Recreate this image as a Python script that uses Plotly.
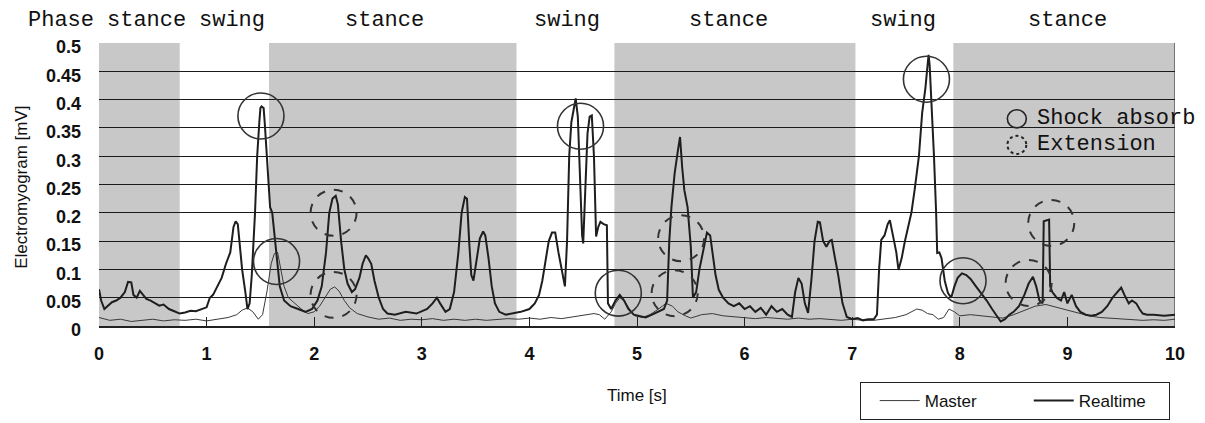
import plotly.graph_objects as go

# --- gait phases (time boundaries in s) ---
phase_bounds = [0, 0.75, 1.58, 3.88, 4.79, 7.03, 7.94, 10]
phase_names = ["stance", "swing", "stance", "swing", "stance", "swing", "stance"]
phase_label_x = [0.44, 1.24, 2.65, 4.35, 5.85, 7.47, 9.0]

# --- Realtime EMG (thick line) ---
rt_t = [0.00, 0.02, 0.05, 0.08, 0.12, 0.16, 0.20, 0.24, 0.27, 0.30, 0.32, 0.35, 0.38, 0.41, 0.44, 0.48,
        0.52, 0.56, 0.60, 0.65, 0.70, 0.75, 0.80, 0.85, 0.90, 0.95, 1.00,
        1.03, 1.06, 1.10, 1.14, 1.18, 1.22, 1.25, 1.27, 1.29, 1.31, 1.33, 1.36, 1.38, 1.40, 1.42, 1.45,
        1.47, 1.49, 1.50, 1.51, 1.53, 1.54, 1.55, 1.57, 1.59, 1.61, 1.64, 1.68, 1.72, 1.78, 1.85, 1.92, 1.98,
        2.03, 2.07, 2.11, 2.14, 2.17, 2.20, 2.22, 2.25, 2.28, 2.31, 2.35, 2.38, 2.42, 2.45, 2.48, 2.50,
        2.53, 2.56, 2.60, 2.64, 2.68, 2.75, 2.85, 2.95, 3.05, 3.10, 3.14, 3.17, 3.22, 3.26,
        3.30, 3.34, 3.37, 3.40, 3.42, 3.44, 3.46, 3.48, 3.51, 3.54, 3.57, 3.59, 3.62, 3.65, 3.68, 3.72,
        3.78, 3.85, 3.92, 4.00, 4.05, 4.09, 4.12, 4.15, 4.18, 4.21, 4.24, 4.27, 4.30, 4.33,
        4.35, 4.37, 4.39, 4.41, 4.43, 4.45, 4.47, 4.49, 4.50, 4.52, 4.54, 4.56, 4.58, 4.60, 4.62, 4.64,
        4.66, 4.69, 4.72, 4.73, 4.76, 4.80, 4.84, 4.88, 4.92, 4.97, 5.02, 5.08, 5.14, 5.20, 5.25,
        5.28, 5.30, 5.32, 5.35, 5.38, 5.40, 5.42, 5.44, 5.47, 5.50, 5.52, 5.55, 5.58, 5.62, 5.65, 5.68,
        5.70, 5.73, 5.76, 5.80, 5.85, 5.90, 5.95, 6.00, 6.05, 6.10, 6.15, 6.20, 6.25, 6.30, 6.35, 6.40,
        6.44, 6.47, 6.50, 6.53, 6.56, 6.59, 6.62, 6.65, 6.68, 6.70, 6.73, 6.76, 6.79, 6.81, 6.84, 6.87,
        6.91, 6.95, 7.00, 7.05, 7.10, 7.15, 7.20, 7.23, 7.25, 7.27, 7.30, 7.33, 7.35, 7.38, 7.41, 7.43,
        7.46, 7.49, 7.52, 7.55, 7.58, 7.62, 7.65, 7.68, 7.70, 7.71, 7.72, 7.74, 7.76, 7.78, 7.79, 7.81,
        7.83, 7.86, 7.89, 7.92, 7.95, 7.98, 8.02, 8.06, 8.10, 8.15, 8.20, 8.25, 8.30, 8.35, 8.38, 8.42,
        8.46, 8.50, 8.55, 8.60, 8.64, 8.68, 8.71, 8.74, 8.77, 8.78, 8.83, 8.84, 8.86, 8.90, 8.94, 8.97,
        9.00, 9.04, 9.08, 9.12, 9.17, 9.22, 9.27, 9.32, 9.37, 9.42, 9.46, 9.50, 9.53, 9.57, 9.60, 9.64,
        9.67, 9.70, 9.74, 9.80, 9.90, 10.00]
rt_v = [0.065, 0.045, 0.030, 0.035, 0.042, 0.045, 0.050, 0.060, 0.078, 0.077, 0.055, 0.050, 0.062, 0.055, 0.048, 0.045,
        0.040, 0.036, 0.038, 0.030, 0.026, 0.022, 0.024, 0.027, 0.026, 0.030, 0.033,
        0.050, 0.055, 0.070, 0.085, 0.110, 0.130, 0.175, 0.185, 0.180, 0.140, 0.100, 0.060, 0.030, 0.040, 0.090, 0.200,
        0.300, 0.360, 0.385, 0.388, 0.385, 0.360, 0.330, 0.280, 0.210, 0.200, 0.140, 0.070, 0.045, 0.035, 0.030, 0.025, 0.030,
        0.045, 0.070, 0.130, 0.200, 0.225, 0.230, 0.215, 0.150, 0.100, 0.075, 0.060, 0.065, 0.085, 0.110, 0.125, 0.120,
        0.110, 0.080, 0.050, 0.030, 0.022, 0.020, 0.025, 0.022, 0.030, 0.040, 0.050, 0.040, 0.025, 0.030,
        0.060, 0.130, 0.200, 0.228, 0.225, 0.150, 0.090, 0.080, 0.120, 0.155, 0.167, 0.160, 0.120, 0.070, 0.040, 0.025,
        0.020, 0.022, 0.025, 0.030, 0.040, 0.055, 0.080, 0.115, 0.150, 0.165, 0.165, 0.130, 0.100, 0.070,
        0.150, 0.300, 0.360, 0.385, 0.402, 0.370, 0.270, 0.160, 0.146, 0.250, 0.340, 0.370, 0.372, 0.300, 0.158, 0.175,
        0.184, 0.180, 0.178, 0.040, 0.030, 0.045, 0.055, 0.045, 0.030, 0.020, 0.018, 0.015, 0.020, 0.025, 0.030,
        0.045, 0.150, 0.210, 0.270, 0.310, 0.334, 0.280, 0.240, 0.210, 0.140, 0.050, 0.060, 0.100, 0.140, 0.165, 0.160,
        0.130, 0.090, 0.064, 0.050, 0.040, 0.035, 0.040, 0.030, 0.035, 0.025, 0.032, 0.020, 0.035, 0.025, 0.030, 0.020,
        0.016, 0.060, 0.085, 0.075, 0.040, 0.023, 0.080, 0.150, 0.184, 0.183, 0.150, 0.140, 0.150, 0.152, 0.120, 0.090,
        0.040, 0.016, 0.012, 0.014, 0.010, 0.012, 0.012, 0.020, 0.100, 0.152, 0.160, 0.180, 0.187, 0.160, 0.130, 0.099,
        0.120, 0.150, 0.175, 0.200, 0.240, 0.300, 0.376, 0.420, 0.460, 0.479, 0.460, 0.387, 0.300, 0.200, 0.129, 0.130,
        0.120, 0.080, 0.058, 0.050, 0.070, 0.085, 0.093, 0.090, 0.083, 0.070, 0.058, 0.045, 0.030, 0.015, 0.008, 0.012,
        0.020, 0.025, 0.035, 0.055, 0.075, 0.087, 0.070, 0.045, 0.040, 0.185, 0.188, 0.070, 0.060, 0.050, 0.045, 0.060,
        0.040, 0.055, 0.035, 0.025, 0.020, 0.018, 0.020, 0.025, 0.035, 0.050, 0.060, 0.068, 0.055, 0.040, 0.045, 0.040,
        0.030, 0.022, 0.020, 0.020, 0.018, 0.020]

# --- Master EMG (thin line) ---
ms_t = [0.0, 0.1, 0.2, 0.3, 0.4, 0.5, 0.6, 0.7, 0.8, 0.9, 1.0, 1.1, 1.2, 1.28, 1.33, 1.38, 1.43, 1.48,
        1.52, 1.56, 1.6, 1.63, 1.66, 1.69, 1.72, 1.76, 1.82, 1.88, 1.94, 2.0, 2.05, 2.1, 2.15, 2.19,
        2.23, 2.28, 2.33, 2.4, 2.5, 2.6, 2.7, 2.8, 2.9, 3.0, 3.1, 3.2, 3.3, 3.4, 3.5, 3.6, 3.7, 3.8,
        3.9, 4.0, 4.1, 4.2, 4.3, 4.4, 4.5, 4.6, 4.65, 4.7, 4.76, 4.8, 4.84, 4.88, 4.93, 4.98, 5.05,
        5.12, 5.2, 5.27, 5.33, 5.38, 5.45, 5.5, 5.6, 5.7, 5.8, 5.9, 6.0, 6.1, 6.2, 6.3, 6.4, 6.5, 6.6,
        6.7, 6.8, 6.9, 7.0, 7.1, 7.2, 7.3, 7.4, 7.5, 7.55, 7.6, 7.65, 7.7, 7.75, 7.8, 7.85, 7.9, 7.95,
        8.0, 8.1, 8.2, 8.3, 8.4, 8.5, 8.6, 8.7, 8.8, 8.9, 9.0, 9.1, 9.2, 9.3, 9.4, 9.5, 9.6, 9.7, 9.8,
        9.9, 10.0]
ms_v = [0.015, 0.010, 0.012, 0.008, 0.010, 0.012, 0.009, 0.011, 0.010, 0.012, 0.009, 0.012, 0.015, 0.020, 0.028, 0.032, 0.025, 0.012,
        0.020, 0.060, 0.110, 0.128, 0.130, 0.100, 0.070, 0.050, 0.040, 0.030, 0.022, 0.025, 0.035, 0.050, 0.065, 0.069,
        0.062, 0.045, 0.032, 0.022, 0.016, 0.012, 0.014, 0.010, 0.012, 0.011, 0.013, 0.010, 0.012, 0.010, 0.012, 0.010, 0.011, 0.013,
        0.012, 0.014, 0.012, 0.015, 0.013, 0.016, 0.018, 0.022, 0.020, 0.012, 0.025, 0.040, 0.050, 0.045, 0.030, 0.018, 0.015,
        0.020, 0.030, 0.040, 0.035, 0.025, 0.018, 0.014, 0.020, 0.022, 0.018, 0.016, 0.015, 0.013, 0.015, 0.013, 0.012, 0.014, 0.012,
        0.013, 0.012, 0.010, 0.012, 0.010, 0.010, 0.013, 0.015, 0.020, 0.025, 0.030, 0.028, 0.022, 0.020, 0.012, 0.015, 0.030, 0.025,
        0.018, 0.020, 0.018, 0.015, 0.014, 0.020, 0.028, 0.035, 0.038, 0.033, 0.028, 0.022, 0.018, 0.015, 0.014, 0.012, 0.012, 0.010, 0.011,
        0.010, 0.012]

# --- marked events (center t, center value) ---
shock_marks = [(1.505, 0.371), (1.65, 0.114), (4.475, 0.353), (4.826, 0.058), (7.69, 0.436), (8.03, 0.08)]
ext_marks = [(2.18, 0.20), (2.18, 0.055), (5.41, 0.155), (5.35, 0.058), (8.85, 0.182), (8.64, 0.076)]

fig = go.Figure()
fig.add_trace(go.Scatter(x=ms_t, y=ms_v, mode="lines", name="Master",
                         line=dict(color="#3a3a3a", width=1)))
fig.add_trace(go.Scatter(x=rt_t, y=rt_v, mode="lines", name="Realtime",
                         line=dict(color="#1e1e1e", width=2)))

# stance bands (gray)
for i, ph in enumerate(phase_names):
    if ph == "stance":
        fig.add_shape(type="rect", xref="x", yref="y", x0=phase_bounds[i], x1=phase_bounds[i + 1],
                      y0=0, y1=0.5, fillcolor="#c8c8c8", line=dict(width=0), layer="below")

# phase header
mono = "Liberation Mono, Courier New, monospace"
fig.add_annotation(xref="paper", yref="paper", x=-0.068, y=1.08, xanchor="left", yanchor="middle",
                   text="Phase", showarrow=False, font=dict(family=mono, size=22, color="#111"))
for name, lx in zip(phase_names, phase_label_x):
    fig.add_annotation(xref="x", yref="paper", x=lx, y=1.08, xanchor="center", yanchor="middle",
                       text=name, showarrow=False, font=dict(family=mono, size=22, color="#111"))

# event circles
rx, ry = 0.214, 0.0406
for cx, cy in shock_marks:
    fig.add_shape(type="circle", xref="x", yref="y", x0=cx - rx, x1=cx + rx, y0=cy - ry, y1=cy + ry,
                  line=dict(color="#333", width=1.6))
for cx, cy in ext_marks:
    fig.add_shape(type="circle", xref="x", yref="y", x0=cx - rx, x1=cx + rx, y0=cy - ry, y1=cy + ry,
                  line=dict(color="#333", width=2, dash="dash"))

# in-plot key for the circles
kx, kdx, kdy = 8.53, 0.088, 0.016
fig.add_shape(type="circle", xref="x", yref="y", x0=kx - kdx, x1=kx + kdx, y0=0.366 - kdy, y1=0.366 + kdy,
              line=dict(color="#222", width=1.6))
fig.add_shape(type="circle", xref="x", yref="y", x0=kx - kdx, x1=kx + kdx, y0=0.320 - kdy, y1=0.320 + kdy,
              line=dict(color="#222", width=2, dash="dot"))
fig.add_annotation(xref="x", yref="y", x=8.7, y=0.366, xanchor="left", yanchor="middle", text="Shock absorb",
                   showarrow=False, font=dict(family=mono, size=22, color="#111"))
fig.add_annotation(xref="x", yref="y", x=8.7, y=0.320, xanchor="left", yanchor="middle", text="Extension",
                   showarrow=False, font=dict(family=mono, size=22, color="#111"))

# right border
fig.add_shape(type="line", xref="x", yref="y", x0=10, x1=10, y0=0, y1=0.5, line=dict(color="#222", width=1))

# axis titles
fig.add_annotation(xref="paper", yref="paper", x=-0.072, y=0.49, xanchor="center", yanchor="middle",
                   textangle=-90, text="Electromyogram [mV]", showarrow=False,
                   font=dict(family="Liberation Sans, Arial", size=17, color="#111"))
fig.add_annotation(xref="paper", yref="paper", x=0.5, y=-0.244, xanchor="center", yanchor="middle",
                   text="Time [s]", showarrow=False,
                   font=dict(family="Liberation Sans, Arial", size=17, color="#111"))

tickfont = dict(family="Liberation Sans, Arial", size=18, color="#111", weight="bold")
fig.update_xaxes(range=[0, 10], tick0=0, dtick=1, ticks="inside", ticklen=9, tickcolor="#222",
                 showgrid=False, zeroline=False, showline=True, linecolor="#222", linewidth=2,
                 tickfont=tickfont, ticklabelstandoff=10)
fig.update_yaxes(range=[0, 0.5], tick0=0, dtick=0.05, showgrid=True, gridcolor="#1a1a1a", gridwidth=1,
                 zeroline=False, showline=False, ticks="", tickfont=tickfont, ticklabelstandoff=17,
                 ticklabelshift=4)

# page body has an 8px margin, so the figure is shrunk by that much
fig.update_layout(
    width=1197, height=415,
    margin=dict(l=91, r=30, t=35, b=97, autoexpand=False),
    paper_bgcolor="white", plot_bgcolor="white",
    showlegend=True,
    legend=dict(orientation="h", x=0.707, y=-0.198, xanchor="left", yanchor="top",
                bordercolor="#222", borderwidth=1, bgcolor="white", indentation=14,
                font=dict(family="Liberation Sans, Arial", size=17, color="#111"),
                itemwidth=40, entrywidth=85),
)

fig.write_html("out.html")
